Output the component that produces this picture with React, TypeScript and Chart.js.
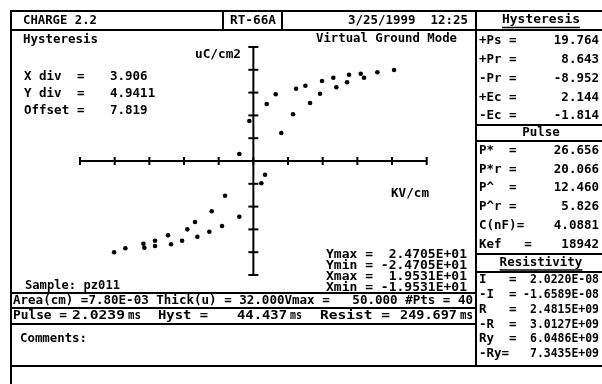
import React, { useEffect, useRef } from "react";
import { Chart, registerables } from "chart.js";
Chart.register(...registerables);

// ---- data ----
const upperBranchX = [-1.58, -0.45, 1.51, 2.52, 3.15, 4.47, 4.81, 5.86, 6.39, 7.51, 7.74, 9.01, 9.35, 10.56, 10.78, 12.1, 12.47, 13.97, 15.85];
const upperBranchY = [1.52, 8.67, 12.35, 14.46, 6.07, 10.12, 15.67, 16.32, 12.57, 14.59, 17.34, 18.05, 15.97, 17.06, 18.7, 18.92, 18.05, 19.22, 19.72];
const lowerBranchX = [1.32, 0.9, -3.19, -4.69, -1.58, -6.57, -7.44, -3.53, -4.96, -9.61, -6.31, -11.08, -8.03, -9.27, -12.39, -12.28, -11.08, -14.42, -15.69];
const lowerBranchY = [-2.97, -4.83, -7.52, -10.9, -12.07, -13.23, -14.81, -14.09, -15.32, -16.1, -16.41, -17.27, -17.27, -18.05, -17.92, -18.79, -18.42, -18.92, -19.79];

const X_DIV = 3.906;
const Y_DIV = 4.9411;
const X_MAX = 19.531;
const Y_MAX = 24.705;
const DIVS = [-5, -4, -3, -2, -1, 0, 1, 2, 3, 4, 5];

const hystLabels = ["+Ps =", "+Pr =", "-Pr =", "+Ec =", "-Ec ="];
const hystValues = ["19.764", "8.643", "-8.952", "2.144", "-1.814"];
const pulseLabels = ["P*  =", "P*r =", "P^  =", "P^r =", "C(nF)=", "Kef   ="];
const pulseValues = ["26.656", "20.066", "12.460", "5.826", "4.0881", "18942"];
const resLabels = ["I   =", "-I  =", "R   =", "-R  =", "Ry  =", "-Ry="];
const resValues = ["2.0220E-08", "-1.6589E-08", "2.4815E+09", "3.0127E+09", "6.0486E+09", "7.3435E+09"];
const rangeLines = ["Ymax =  2.4705E+01", "Ymin = -2.4705E+01", "Xmax =  1.9531E+01", "Xmin = -1.9531E+01"];
const areaLine = "Area(cm) =7.80E-03 Thick(u) = 32.000Vmax =   50.000 #Pts = 40";

const FONT = "bold 12.5px 'DejaVu Sans Mono', monospace";
const W = 602;
const H = 384;

function fit(ctx: CanvasRenderingContext2D, s: string, x1: number, x2: number, y: number) {
  const nat = ctx.measureText(s).width;
  ctx.save();
  ctx.textAlign = "left";
  ctx.translate(x1, y);
  ctx.scale((x2 - x1) / nat, 1);
  ctx.fillText(s, 0, 0);
  ctx.restore();
}
function txt(ctx: CanvasRenderingContext2D, s: string, x: number, y: number, align: CanvasTextAlign = "left") {
  ctx.textAlign = align;
  ctx.fillText(s, x, y);
}
function seg(ctx: CanvasRenderingContext2D, x1: number, y1: number, x2: number, y2: number, w = 2) {
  ctx.lineWidth = w;
  ctx.beginPath();
  ctx.moveTo(x1, y1);
  ctx.lineTo(x2, y2);
  ctx.stroke();
}

const sheetPlugin = {
  id: "sheet",
  beforeDraw(chart: any) {
    const ctx = chart.ctx;
    ctx.save();
    ctx.fillStyle = "#fff";
    ctx.fillRect(0, 0, W, H);
    ctx.restore();
  },
  beforeDatasetsDraw(chart: any) {
    const ctx = chart.ctx as CanvasRenderingContext2D;
    const xs = chart.scales.x;
    const ys = chart.scales.y;
    const x0 = xs.getPixelForValue(0);
    const y0 = ys.getPixelForValue(0);
    ctx.save();
    ctx.strokeStyle = "#000";
    seg(ctx, xs.getPixelForValue(-X_MAX), y0, xs.getPixelForValue(X_MAX), y0);
    DIVS.forEach((k) => {
      const px = xs.getPixelForValue(k * X_DIV);
      seg(ctx, px, y0 - 4, px, y0 + 4);
    });
    seg(ctx, x0, ys.getPixelForValue(Y_MAX), x0, ys.getPixelForValue(-Y_MAX));
    DIVS.forEach((k) => {
      const py = ys.getPixelForValue(k * Y_DIV);
      seg(ctx, x0 - 5, py, x0 + 5, py);
    });
    ctx.restore();
  },
  afterDraw(chart: any) {
    const ctx = chart.ctx as CanvasRenderingContext2D;
    ctx.save();
    ctx.strokeStyle = "#000";
    ctx.fillStyle = "#000";
    // frame
    seg(ctx, 11, 11, W, 11);
    seg(ctx, 11, 30, W, 30);
    seg(ctx, 11, 10, 11, H);
    seg(ctx, 223, 11, 223, 30);
    seg(ctx, 282, 11, 282, 30);
    seg(ctx, 476, 11, 476, 366);
    seg(ctx, 11, 293, 476, 293);
    seg(ctx, 11, 308, 476, 308);
    seg(ctx, 11, 324, 476, 324);
    seg(ctx, 11, 366, W, 366);
    seg(ctx, 476, 125, W, 125);
    seg(ctx, 476, 141, W, 141);
    seg(ctx, 476, 254, W, 254);
    seg(ctx, 476, 272, W, 272);

    ctx.font = FONT;
    ctx.textBaseline = "middle";
    // header
    fit(ctx, "CHARGE 2.2", 23, 97, 21);
    fit(ctx, "RT-66A", 230, 276, 21);
    fit(ctx, "3/25/1999  12:25", 348, 468, 21);
    fit(ctx, "Hysteresis", 502, 580, 20);
    seg(ctx, 502, 27.5, 580, 27.5, 1.5);

    // plot annotations
    fit(ctx, "Hysteresis", 23, 98, 40);
    fit(ctx, "Virtual Ground Mode", 316, 457, 39);
    fit(ctx, "uC/cm2", 195, 241, 55);
    const divRows: [string, string, number][] = [
      ["X div", "3.906", 77],
      ["Y div", "4.9411", 94],
      ["Offset", "7.819", 111],
    ];
    divRows.forEach(([l, v, y]) => {
      txt(ctx, l, 24, y);
      txt(ctx, "=", 77, y);
      txt(ctx, v, 110, y);
    });
    fit(ctx, "KV/cm", 391, 429, 194);
    rangeLines.forEach((s, i) => fit(ctx, s, 326, 467, 254.5 + i * 11.2));
    fit(ctx, "Sample: pz011", 25, 120, 286);

    // info rows
    fit(ctx, areaLine, 13, 473, 300.5);

    fit(ctx, "Pulse =", 13, 67, 316);
    fit(ctx, "2.0239", 72, 125, 316);
    fit(ctx, "ms", 128, 141, 316);
    fit(ctx, "Hyst =", 158, 208, 316);
    fit(ctx, "44.437", 237, 287, 316);
    fit(ctx, "ms", 290, 302, 316);
    fit(ctx, "Resist =", 320, 390, 316);
    fit(ctx, "249.697", 400, 457, 316);
    fit(ctx, "ms", 460, 473, 316);

    fit(ctx, "Comments:", 20, 87, 339);

    // right panel
    hystLabels.forEach((l, i) => {
      const y = 41 + i * 18.8;
      txt(ctx, l, 479, y);
      txt(ctx, hystValues[i], 599, y, "right");
    });
    txt(ctx, "Pulse", 541, 133, "center");
    pulseLabels.forEach((l, i) => {
      const y = 150.5 + i * 18.8;
      txt(ctx, l, 479, y);
      txt(ctx, pulseValues[i], 599, y, "right");
    });
    txt(ctx, "Resistivity", 541, 262.5, "center");
    const rw = ctx.measureText("Resistivity").width;
    seg(ctx, 541 - rw / 2, 270, 541 + rw / 2, 270, 1.5);
    resLabels.forEach((l, i) => {
      const y = 280 + i * 14.8;
      txt(ctx, l, 479, y);
      const v = resValues[i];
      fit(ctx, v, 599 - v.length * 6.9, 599, y);
    });
    ctx.restore();
  },
};

export default function App() {
  const ref = useRef<HTMLCanvasElement | null>(null);
  useEffect(() => {
    document.body.style.margin = "0";
    if (!ref.current) return;
    const toPts = (xs: number[], ys: number[]) => xs.map((x, i) => ({ x, y: ys[i] }));
    const chart = new Chart(ref.current, {
      type: "scatter",
      data: {
        datasets: [
          { label: "ascending", data: toPts(upperBranchX, upperBranchY), backgroundColor: "#000", borderColor: "#000", pointRadius: 2.3, borderWidth: 0 },
          { label: "descending", data: toPts(lowerBranchX, lowerBranchY), backgroundColor: "#000", borderColor: "#000", pointRadius: 2.3, borderWidth: 0 },
        ],
      },
      options: {
        responsive: false,
        maintainAspectRatio: false,
        devicePixelRatio: 1,
        animation: false,
        layout: { padding: { left: 80, right: W - 426.7, top: 47, bottom: H - 275 } },
        plugins: { legend: { display: false }, tooltip: { enabled: false } },
        scales: {
          x: { type: "linear", min: -X_MAX, max: X_MAX, display: false },
          y: { type: "linear", min: -Y_MAX, max: Y_MAX, display: false },
        },
      },
      plugins: [sheetPlugin],
    });
    return () => chart.destroy();
  }, []);
  return (
    <div style={{ position: "absolute", left: 0, top: 0, width: W, height: H, background: "#fff" }}>
      <canvas ref={ref} width={W} height={H} style={{ display: "block" }} />
    </div>
  );
}
